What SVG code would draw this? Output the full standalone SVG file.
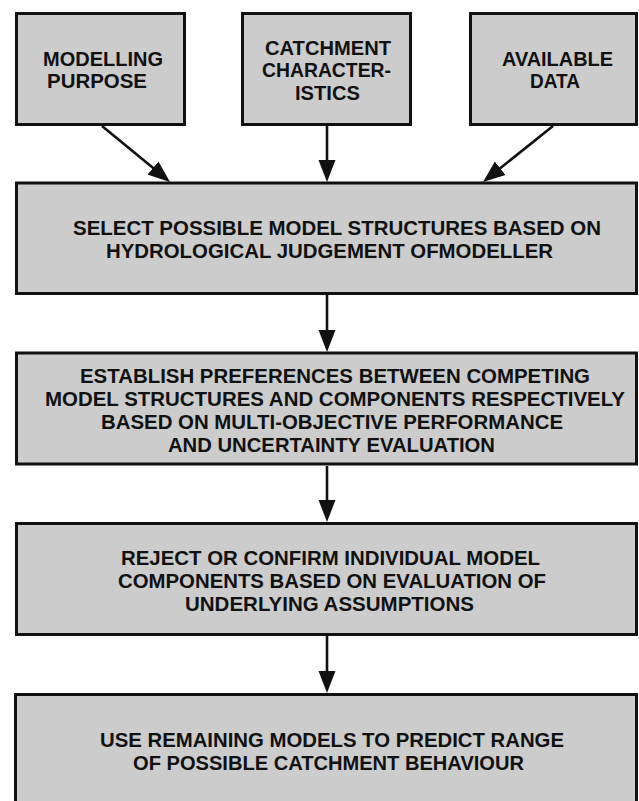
<svg xmlns="http://www.w3.org/2000/svg" width="639" height="801" viewBox="0 0 639 801">
<style>
  .box { fill: #cccccc; stroke: #111111; stroke-width: 3; }
  .t { font-family: "Liberation Sans", Arial, Helvetica, sans-serif; font-weight: bold; font-size: 21px; fill: #111111; }
  .edge { stroke: #111111; stroke-width: 2.6; fill: none; marker-end: url(#arrow); }
</style>
<defs>
  <marker id="arrow" markerUnits="userSpaceOnUse" markerWidth="22" markerHeight="18" refX="12" refY="8.5" orient="auto" viewBox="0 0 22 17">
    <path d="M0,0 L22,8.5 L0,17 Z" fill="#111111"/>
  </marker>
</defs>
<rect width="639" height="801" fill="#ffffff"/>

<g id="connectors">
  <line class="edge" x1="102" y1="126" x2="162.3" y2="175.6"/>
  <line class="edge" x1="327" y1="126" x2="327" y2="172"/>
  <line class="edge" x1="553" y1="126" x2="490.8" y2="175.75"/>
  <line class="edge" x1="327" y1="295" x2="327" y2="342"/>
  <line class="edge" x1="327" y1="466" x2="327" y2="512"/>
  <line class="edge" x1="327" y1="636" x2="327" y2="683"/>
</g>

<g id="modelling-purpose">
  <rect class="box" x="16.5" y="13.5" width="168" height="111"/>
  <text class="t" x="43" y="65.5" textLength="120" lengthAdjust="spacingAndGlyphs">MODELLING</text>
  <text class="t" x="47" y="87.5" textLength="100" lengthAdjust="spacingAndGlyphs">PURPOSE</text>
</g>

<g id="catchment-characteristics">
  <rect class="box" x="242.5" y="13.5" width="168" height="111"/>
  <text class="t" x="265" y="54.5" textLength="126" lengthAdjust="spacingAndGlyphs">CATCHMENT</text>
  <text class="t" x="262" y="77" textLength="129" lengthAdjust="spacingAndGlyphs">CHARACTER-</text>
  <text class="t" x="295" y="100" textLength="65" lengthAdjust="spacingAndGlyphs">ISTICS</text>
</g>

<g id="available-data">
  <rect class="box" x="470.5" y="13.5" width="166" height="111"/>
  <text class="t" x="502" y="65.5" textLength="111" lengthAdjust="spacingAndGlyphs">AVAILABLE</text>
  <text class="t" x="530" y="87.5" textLength="50" lengthAdjust="spacingAndGlyphs">DATA</text>
</g>

<g id="select-structures">
  <rect class="box" x="16.5" y="183" width="620" height="110.5"/>
  <text class="t" x="73" y="234.5" textLength="528" lengthAdjust="spacingAndGlyphs">SELECT POSSIBLE MODEL STRUCTURES BASED ON</text>
  <text class="t" x="106" y="257.5" textLength="447" lengthAdjust="spacingAndGlyphs">HYDROLOGICAL JUDGEMENT OFMODELLER</text>
</g>

<g id="establish-preferences">
  <rect class="box" x="16.5" y="353" width="620" height="111"/>
  <text class="t" x="80" y="382.5" textLength="510" lengthAdjust="spacingAndGlyphs">ESTABLISH PREFERENCES BETWEEN COMPETING</text>
  <text class="t" x="45" y="405.5" textLength="580" lengthAdjust="spacingAndGlyphs">MODEL STRUCTURES AND COMPONENTS RESPECTIVELY</text>
  <text class="t" x="101" y="428.5" textLength="462" lengthAdjust="spacingAndGlyphs">BASED ON MULTI-OBJECTIVE PERFORMANCE</text>
  <text class="t" x="168" y="451.5" textLength="327" lengthAdjust="spacingAndGlyphs">AND UNCERTAINTY EVALUATION</text>
</g>

<g id="reject-confirm">
  <rect class="box" x="16.5" y="523.5" width="620" height="111"/>
  <text class="t" x="121" y="564.5" textLength="419" lengthAdjust="spacingAndGlyphs">REJECT OR CONFIRM INDIVIDUAL MODEL</text>
  <text class="t" x="118" y="587.5" textLength="428" lengthAdjust="spacingAndGlyphs">COMPONENTS BASED ON EVALUATION OF</text>
  <text class="t" x="185" y="610.5" textLength="289" lengthAdjust="spacingAndGlyphs">UNDERLYING ASSUMPTIONS</text>
</g>

<g id="use-remaining">
  <rect class="box" x="15.5" y="694.5" width="621" height="130"/>
  <text class="t" x="100" y="746.5" textLength="464" lengthAdjust="spacingAndGlyphs">USE REMAINING MODELS TO PREDICT RANGE</text>
  <text class="t" x="133" y="769.5" textLength="391" lengthAdjust="spacingAndGlyphs">OF POSSIBLE CATCHMENT BEHAVIOUR</text>
</g>
</svg>
